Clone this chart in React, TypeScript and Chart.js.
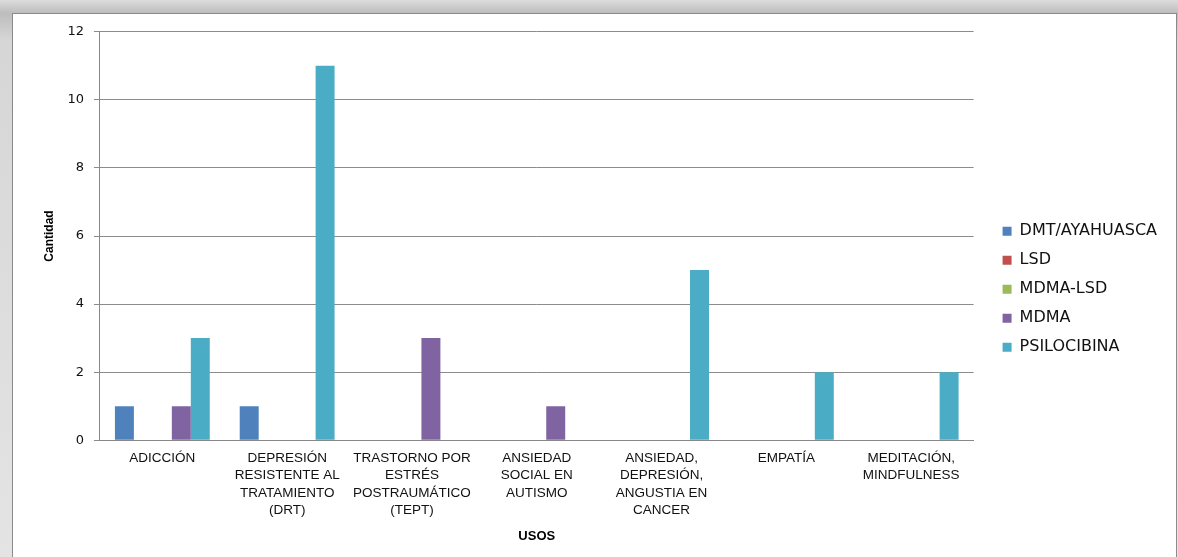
import React, { useEffect, useRef } from "react";
import { Chart, registerables } from "chart.js";

Chart.register(...registerables);

const categories: string[][] = [
  ["ADICCIÓN"],
  ["DEPRESIÓN", "RESISTENTE AL", "TRATAMIENTO", "(DRT)"],
  ["TRASTORNO POR", "ESTRÉS", "POSTRAUMÁTICO", "(TEPT)"],
  ["ANSIEDAD", "SOCIAL EN", "AUTISMO"],
  ["ANSIEDAD,", "DEPRESIÓN,", "ANGUSTIA EN", "CANCER"],
  ["EMPATÍA"],
  ["MEDITACIÓN,", "MINDFULNESS"],
];

const seriesNames = ["DMT/AYAHUASCA", "LSD", "MDMA-LSD", "MDMA", "PSILOCIBINA"];
const dmt = [1, 1, 0, 0, 0, 0, 0];
const lsd = [0, 0, 0, 0, 0, 0, 0];
const mdmaLsd = [0, 0, 0, 0, 0, 0, 0];
const mdma = [1, 0, 3, 1, 0, 0, 0];
const psilocibina = [3, 11, 0, 0, 5, 2, 2];
const colors = ["#4F81BD", "#C0504D", "#9BBB59", "#8064A2", "#4BACC6"];
const yTicks = [0, 2, 4, 6, 8, 10, 12];

const FONT = "'Liberation Sans', 'DejaVu Sans', sans-serif";
const WIDE_FONT = "'DejaVu Sans', sans-serif";

export default function App() {
  const ref = useRef<HTMLCanvasElement>(null);
  useEffect(() => {
    const values = [dmt, lsd, mdmaLsd, mdma, psilocibina];
    const chart = new Chart(ref.current!, {
      type: "bar",
      data: {
        labels: categories,
        datasets: seriesNames.map((n, i) => ({
          label: n,
          data: values[i],
          backgroundColor: colors[i],
          borderWidth: 0,
          categoryPercentage: 0.76,
          barPercentage: 1,
        })),
      },
      options: {
        animation: false,
        responsive: false,
        maintainAspectRatio: false,
        layout: { padding: { left: 29, right: 9, top: 7, bottom: 14 } },
        plugins: {
          tooltip: { enabled: false },
          legend: {
            position: "right",
            title: { display: true, text: " ", font: { size: 8 }, padding: 2 },
            labels: {
              boxWidth: 9,
              boxHeight: 9,
              padding: 13,
              color: "#111",
              font: { family: WIDE_FONT, size: 16 },
            },
          },
        },
        scales: {
          x: {
            grid: { display: false, drawTicks: false },
            border: { color: "#888", width: 1 },
            ticks: {
              color: "#111",
              font: { family: FONT, size: 13.5, lineHeight: 1.3 },
              maxRotation: 0,
              autoSkip: false,
              padding: 9,
            },
            title: {
              display: true,
              text: "USOS",
              color: "#000",
              font: { family: FONT, size: 13, weight: "bold" },
              padding: { top: 0, bottom: 0 },
            },
          },
          y: {
            min: 0,
            max: 12,
            afterBuildTicks: (axis: any) => {
              axis.ticks = yTicks.map((v) => ({ value: v }));
            },
            grid: { color: "#8c8c8c", tickLength: 6, lineWidth: 1 },
            border: { color: "#888", width: 1 },
            ticks: {
              color: "#111",
              font: { family: WIDE_FONT, size: 13 },
              padding: 10,
            },
            title: {
              display: true,
              text: "Cantidad",
              color: "#000",
              font: { family: FONT, size: 12, weight: "bold" },
              padding: { top: 0, bottom: 1 },
            },
          },
          gap: {
            type: "linear",
            position: "right",
            display: true,
            grid: { display: false, drawTicks: false },
            border: { display: false },
            ticks: { display: false },
            afterFit: (axis: any) => {
              axis.width = 16;
            },
          },
        },
      },
    });
    return () => chart.destroy();
  }, []);

  return (
    <div
      style={{
        position: "absolute",
        left: 0,
        top: 0,
        width: 1178,
        height: 557,
        background: "linear-gradient(#dcdcdc, #bdbdbd 13px, #d6d6d6 40px, #e4e4e4)",
        overflow: "hidden",
      }}
    >
      <div
        style={{
          position: "absolute",
          left: 12,
          top: 13,
          width: 1163,
          height: 560,
          background: "#fff",
          border: "1px solid #8a8a8a",
        }}
      >
        <canvas ref={ref} width={1163} height={544} style={{ display: "block" }} />
      </div>
    </div>
  );
}
